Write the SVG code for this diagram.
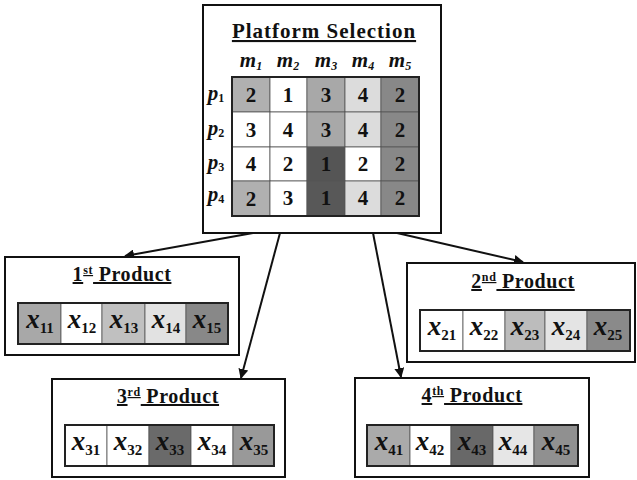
<svg xmlns="http://www.w3.org/2000/svg" width="637" height="480" viewBox="0 0 637 480">
  <style>
    .box { fill: #fff; stroke: #111; stroke-width: 2; }
    .row { fill: none; stroke: #222; stroke-width: 2; }
    .cell { stroke: #555; stroke-width: 0.8; }
    .title { font-family: "Liberation Serif", serif; font-weight: bold; font-size: 21px; letter-spacing: 1px; text-anchor: middle; text-decoration: underline; fill: #111; }
    .ptitle { font-family: "Liberation Serif", serif; font-weight: bold; font-size: 20px; letter-spacing: 0.6px; text-anchor: middle; text-decoration: underline; fill: #111; }
    .sup { font-size: 12px; text-decoration: none; }
    .num { font-family: "Liberation Serif", serif; font-weight: bold; font-size: 21px; text-anchor: middle; fill: #111; }
    .hdr { font-family: "Liberation Serif", serif; font-weight: bold; font-style: italic; font-size: 21px; text-anchor: middle; fill: #111; }
    .sub { font-size: 12px; }
    .var { font-family: "Liberation Serif", serif; font-weight: bold; font-style: italic; font-size: 27px; text-anchor: middle; fill: #111; }
    .vsub { font-style: normal; font-size: 15px; }
    .conn { stroke: #111; stroke-width: 2; fill: none; }
  </style>
  <defs>
    <marker id="arrow" viewBox="0 0 10 10" refX="9" refY="5" markerWidth="5" markerHeight="5" orient="auto" markerUnits="strokeWidth">
      <path d="M0,0 L10,5 L0,10 z" fill="#111"/>
    </marker>
  </defs>

  <!-- connectors -->
  <g id="connectors">
    <line class="conn" x1="253" y1="233" x2="125" y2="256" marker-end="url(#arrow)"/>
    <line class="conn" x1="397" y1="233" x2="523" y2="262" marker-end="url(#arrow)"/>
    <line class="conn" x1="280" y1="233" x2="241" y2="378" marker-end="url(#arrow)"/>
    <line class="conn" x1="373" y1="233" x2="401" y2="377" marker-end="url(#arrow)"/>
  </g>

  <!-- platform selection matrix -->
  <g id="platform">
    <rect class="box" x="203" y="5" width="238" height="228"/>
    <text class="title" x="324" y="38">Platform Selection</text>
    <text class="hdr" x="251" y="67">m<tspan class="sub" dy="3">1</tspan></text>
    <text class="hdr" x="288" y="67">m<tspan class="sub" dy="3">2</tspan></text>
    <text class="hdr" x="326" y="67">m<tspan class="sub" dy="3">3</tspan></text>
    <text class="hdr" x="363" y="67">m<tspan class="sub" dy="3">4</tspan></text>
    <text class="hdr" x="400" y="67">m<tspan class="sub" dy="3">5</tspan></text>
    <text class="hdr" x="216" y="100">p<tspan class="sub" dy="2" font-style="normal">1</tspan></text>
    <text class="hdr" x="216" y="135">p<tspan class="sub" dy="2" font-style="normal">2</tspan></text>
    <text class="hdr" x="216" y="169">p<tspan class="sub" dy="2" font-style="normal">3</tspan></text>
    <text class="hdr" x="216" y="201">p<tspan class="sub" dy="2" font-style="normal">4</tspan></text>
    <!-- cells: columns at 232,270,307,345,381,419 ; rows at 77,112,147,181,216 -->
    <g class="cell">
      <rect x="232" y="77" width="38" height="35" fill="#b0b0b0"/>
      <rect x="270" y="77" width="37" height="35" fill="#ffffff"/>
      <rect x="307" y="77" width="38" height="35" fill="#a8a8a8"/>
      <rect x="345" y="77" width="36" height="35" fill="#dcdcdc"/>
      <rect x="381" y="77" width="38" height="35" fill="#888888"/>
      <rect x="232" y="112" width="38" height="35" fill="#ffffff"/>
      <rect x="270" y="112" width="37" height="35" fill="#ffffff"/>
      <rect x="307" y="112" width="38" height="35" fill="#a8a8a8"/>
      <rect x="345" y="112" width="36" height="35" fill="#dcdcdc"/>
      <rect x="381" y="112" width="38" height="35" fill="#888888"/>
      <rect x="232" y="147" width="38" height="34" fill="#ffffff"/>
      <rect x="270" y="147" width="37" height="34" fill="#ffffff"/>
      <rect x="307" y="147" width="38" height="34" fill="#555555"/>
      <rect x="345" y="147" width="36" height="34" fill="#ffffff"/>
      <rect x="381" y="147" width="38" height="34" fill="#888888"/>
      <rect x="232" y="181" width="38" height="35" fill="#b0b0b0"/>
      <rect x="270" y="181" width="37" height="35" fill="#ffffff"/>
      <rect x="307" y="181" width="38" height="35" fill="#585858"/>
      <rect x="345" y="181" width="36" height="35" fill="#dcdcdc"/>
      <rect x="381" y="181" width="38" height="35" fill="#888888"/>
    </g>
    <rect class="row" x="232" y="77" width="187" height="139"/>
    <text class="num" x="251" y="102">2</text>
    <text class="num" x="288" y="102">1</text>
    <text class="num" x="326" y="102">3</text>
    <text class="num" x="363" y="102">4</text>
    <text class="num" x="400" y="102">2</text>
    <text class="num" x="251" y="137">3</text>
    <text class="num" x="288" y="137">4</text>
    <text class="num" x="326" y="137">3</text>
    <text class="num" x="363" y="137">4</text>
    <text class="num" x="400" y="137">2</text>
    <text class="num" x="251" y="171">4</text>
    <text class="num" x="288" y="171">2</text>
    <text class="num" x="326" y="171">1</text>
    <text class="num" x="363" y="171">2</text>
    <text class="num" x="400" y="171">2</text>
    <text class="num" x="251" y="206">2</text>
    <text class="num" x="288" y="205">3</text>
    <text class="num" x="326" y="205">1</text>
    <text class="num" x="363" y="205">4</text>
    <text class="num" x="400" y="205">2</text>
  </g>

  <!-- 1st product -->
  <g id="product1">
    <rect class="box" x="5" y="257" width="234" height="98"/>
    <text class="ptitle" x="122" y="281">1<tspan class="sup" dy="-7">st</tspan><tspan dy="7"> Product</tspan></text>
    <g class="cell">
      <rect x="18" y="303" width="43" height="41" fill="#a8a8a8"/>
      <rect x="61" y="303" width="41" height="41" fill="#ffffff"/>
      <rect x="102" y="303" width="43" height="41" fill="#c0c0c0"/>
      <rect x="145" y="303" width="41" height="41" fill="#e2e2e2"/>
      <rect x="186" y="303" width="42" height="41" fill="#888888"/>
    </g>
    <rect class="row" x="18" y="303" width="210" height="41"/>
    <text class="var" x="40" y="328">x<tspan class="vsub" dy="5">11</tspan></text>
    <text class="var" x="82" y="328">x<tspan class="vsub" dy="5">12</tspan></text>
    <text class="var" x="124" y="328">x<tspan class="vsub" dy="5">13</tspan></text>
    <text class="var" x="166" y="328">x<tspan class="vsub" dy="5">14</tspan></text>
    <text class="var" x="207" y="328">x<tspan class="vsub" dy="5">15</tspan></text>
  </g>

  <!-- 2nd product -->
  <g id="product2">
    <rect class="box" x="407" y="263" width="228" height="99"/>
    <text class="ptitle" x="523" y="288">2<tspan class="sup" dy="-7">nd</tspan><tspan dy="7"> Product</tspan></text>
    <g class="cell">
      <rect x="420" y="310" width="43" height="41" fill="#ffffff"/>
      <rect x="463" y="310" width="42" height="41" fill="#ffffff"/>
      <rect x="505" y="310" width="40" height="41" fill="#bcbcbc"/>
      <rect x="545" y="310" width="42" height="41" fill="#e4e4e4"/>
      <rect x="587" y="310" width="43" height="41" fill="#8a8a8a"/>
    </g>
    <rect class="row" x="420" y="310" width="210" height="41"/>
    <text class="var" x="442" y="335">x<tspan class="vsub" dy="5">21</tspan></text>
    <text class="var" x="484" y="335">x<tspan class="vsub" dy="5">22</tspan></text>
    <text class="var" x="525" y="335">x<tspan class="vsub" dy="5">23</tspan></text>
    <text class="var" x="566" y="335">x<tspan class="vsub" dy="5">24</tspan></text>
    <text class="var" x="608" y="335">x<tspan class="vsub" dy="5">25</tspan></text>
  </g>

  <!-- 3rd product -->
  <g id="product3">
    <rect class="box" x="52" y="379" width="233" height="98"/>
    <text class="ptitle" x="168" y="403">3<tspan class="sup" dy="-7">rd</tspan><tspan dy="7"> Product</tspan></text>
    <g class="cell">
      <rect x="65" y="425" width="42" height="41" fill="#ffffff"/>
      <rect x="107" y="425" width="42" height="41" fill="#ffffff"/>
      <rect x="149" y="425" width="42" height="41" fill="#6a6a6a"/>
      <rect x="191" y="425" width="42" height="41" fill="#ffffff"/>
      <rect x="233" y="425" width="41" height="41" fill="#999999"/>
    </g>
    <rect class="row" x="65" y="425" width="209" height="41"/>
    <text class="var" x="86" y="450">x<tspan class="vsub" dy="5">31</tspan></text>
    <text class="var" x="128" y="450">x<tspan class="vsub" dy="5">32</tspan></text>
    <text class="var" x="170" y="450">x<tspan class="vsub" dy="5">33</tspan></text>
    <text class="var" x="212" y="450">x<tspan class="vsub" dy="5">34</tspan></text>
    <text class="var" x="254" y="450">x<tspan class="vsub" dy="5">35</tspan></text>
  </g>

  <!-- 4th product -->
  <g id="product4">
    <rect class="box" x="355" y="378" width="234" height="99"/>
    <text class="ptitle" x="472" y="402">4<tspan class="sup" dy="-7">th</tspan><tspan dy="7"> Product</tspan></text>
    <g class="cell">
      <rect x="367" y="425" width="43" height="41" fill="#aaaaaa"/>
      <rect x="410" y="425" width="41" height="41" fill="#ffffff"/>
      <rect x="451" y="425" width="42" height="41" fill="#686868"/>
      <rect x="493" y="425" width="41" height="41" fill="#e6e6e6"/>
      <rect x="534" y="425" width="44" height="41" fill="#909090"/>
    </g>
    <rect class="row" x="367" y="425" width="211" height="41"/>
    <text class="var" x="389" y="450">x<tspan class="vsub" dy="5">41</tspan></text>
    <text class="var" x="430" y="450">x<tspan class="vsub" dy="5">42</tspan></text>
    <text class="var" x="472" y="450">x<tspan class="vsub" dy="5">43</tspan></text>
    <text class="var" x="513" y="450">x<tspan class="vsub" dy="5">44</tspan></text>
    <text class="var" x="556" y="450">x<tspan class="vsub" dy="5">45</tspan></text>
  </g>
</svg>
